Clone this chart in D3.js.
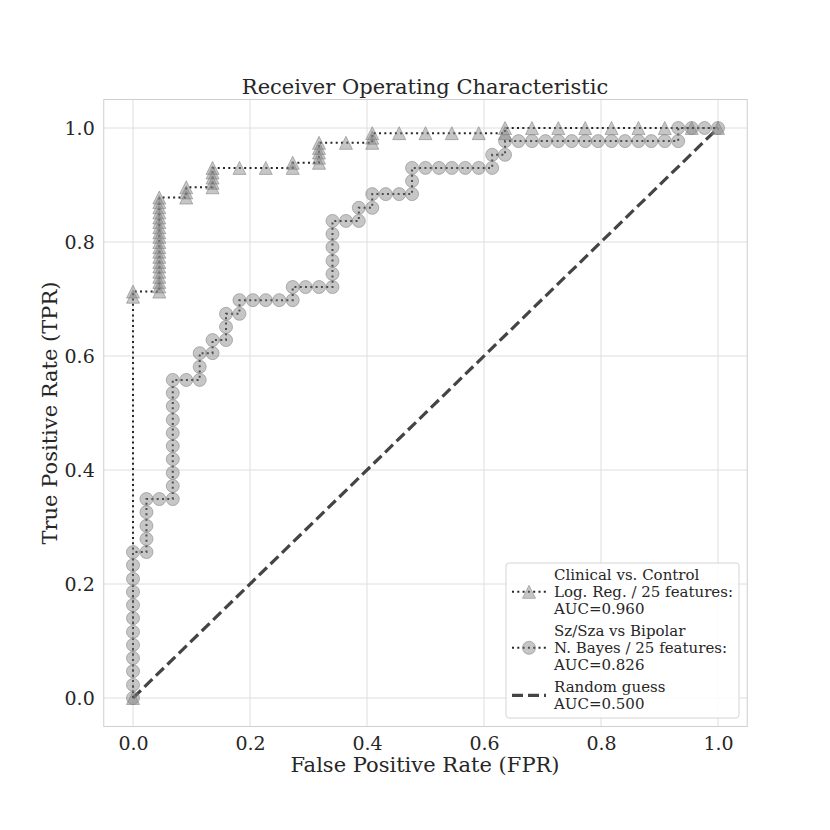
<!DOCTYPE html>
<html>
<head>
<meta charset="utf-8">
<script src="https://cdn.jsdelivr.net/npm/d3@7"></script>
<style>
  body { margin: 0; background: #fff; }
  svg { font-family: "DejaVu Serif", serif; }
</style>
</head>
<body>
<svg id="chart"></svg>
<script>
// ROC points

// Clinical vs. Control, logistic regression
var triFpr = [0, 0, 0,
  0.045, 0.045, 0.045, 0.045, 0.045, 0.045, 0.045, 0.045, 0.045, 0.045,
  0.045, 0.045, 0.045, 0.045, 0.045, 0.045, 0.045, 0.045, 0.045, 0.045,
  0.091, 0.091, 0.091,
  0.136, 0.136, 0.136, 0.136, 0.136,
  0.182, 0.227, 0.273, 0.273,
  0.318, 0.318, 0.318, 0.318, 0.318,
  0.364, 0.409, 0.409, 0.409,
  0.455, 0.500, 0.545, 0.591, 0.636, 0.636,
  0.682, 0.727, 0.773, 0.818, 0.864, 0.909, 0.955, 1.0];
var triTpr = [0, 0.704, 0.713,
  0.713, 0.722, 0.730, 0.739, 0.748, 0.757, 0.765, 0.774, 0.783, 0.791,
  0.800, 0.809, 0.817, 0.826, 0.835, 0.843, 0.852, 0.861, 0.870, 0.878,
  0.878, 0.887, 0.896,
  0.896, 0.904, 0.913, 0.922, 0.930,
  0.930, 0.930, 0.930, 0.939,
  0.939, 0.948, 0.957, 0.965, 0.974,
  0.974, 0.974, 0.983, 0.991,
  0.991, 0.991, 0.991, 0.991, 0.991, 1.0,
  1.0, 1.0, 1.0, 1.0, 1.0, 1.0, 1.0, 1.0];

// Sz/Sza vs Bipolar, naive Bayes
var circFpr = [0, 0, 0, 0, 0, 0, 0, 0, 0, 0, 0, 0,
  0.023, 0.023, 0.023, 0.023, 0.023,
  0.045,
  0.068, 0.068, 0.068, 0.068, 0.068, 0.068, 0.068, 0.068, 0.068, 0.068,
  0.091,
  0.114, 0.114, 0.114,
  0.136, 0.136,
  0.159, 0.159, 0.159,
  0.182, 0.182,
  0.205, 0.227, 0.250,
  0.273, 0.273,
  0.295, 0.318,
  0.341, 0.341, 0.341, 0.341, 0.341, 0.341,
  0.364,
  0.386, 0.386,
  0.409, 0.409,
  0.432, 0.455,
  0.477, 0.477, 0.477,
  0.500, 0.523, 0.545, 0.568, 0.591,
  0.614, 0.614,
  0.636, 0.636,
  0.659, 0.682, 0.705, 0.727, 0.750, 0.773, 0.795, 0.818, 0.841, 0.864, 0.886, 0.909,
  0.932, 0.932,
  0.955, 0.977, 1.0];
var circTpr = [0, 0.023, 0.047, 0.070, 0.093, 0.116, 0.140, 0.163, 0.186, 0.209, 0.233, 0.256,
  0.256, 0.279, 0.302, 0.326, 0.349,
  0.349,
  0.349, 0.372, 0.395, 0.419, 0.442, 0.465, 0.488, 0.512, 0.535, 0.558,
  0.558,
  0.558, 0.581, 0.605,
  0.605, 0.628,
  0.628, 0.651, 0.674,
  0.674, 0.698,
  0.698, 0.698, 0.698,
  0.698, 0.721,
  0.721, 0.721,
  0.721, 0.744, 0.767, 0.791, 0.814, 0.837,
  0.837,
  0.837, 0.860,
  0.860, 0.884,
  0.884, 0.884,
  0.884, 0.907, 0.930,
  0.930, 0.930, 0.930, 0.930, 0.930,
  0.930, 0.953,
  0.953, 0.977,
  0.977, 0.977, 0.977, 0.977, 0.977, 0.977, 0.977, 0.977, 0.977, 0.977, 0.977, 0.977,
  0.977, 1.0,
  1.0, 1.0, 1.0];

var guessFpr = [0, 1];
var guessTpr = [0, 1];

var tickValues = [0, 0.2, 0.4, 0.6, 0.8, 1.0];

var legendLabels = [
  ["Clinical vs. Control", "Log. Reg. / 25 features:", "AUC=0.960"],
  ["Sz/Sza vs Bipolar", "N. Bayes / 25 features:", "AUC=0.826"],
  ["Random guess", "AUC=0.500"]
];

var width = 830, height = 830;
var svg = d3.select("#chart").attr("width", width).attr("height", height);

var x = d3.scaleLinear().domain([-0.05, 1.05]).range([103.75, 747.25]);
var y = d3.scaleLinear().domain([-0.05, 1.05]).range([726.5, 99.5]);

// grid
svg.append("g").selectAll("line").data(tickValues).enter().append("line")
  .attr("x1", d => x(d)).attr("x2", d => x(d))
  .attr("y1", y.range()[0]).attr("y2", y.range()[1])
  .attr("stroke", "#dedede").attr("stroke-width", 1);
svg.append("g").selectAll("line").data(tickValues).enter().append("line")
  .attr("y1", d => y(d)).attr("y2", d => y(d))
  .attr("x1", x.range()[0]).attr("x2", x.range()[1])
  .attr("stroke", "#dedede").attr("stroke-width", 1);

// frame
svg.append("rect")
  .attr("x", x.range()[0]).attr("y", y.range()[1])
  .attr("width", x.range()[1] - x.range()[0]).attr("height", y.range()[0] - y.range()[1])
  .attr("fill", "none").attr("stroke", "#cfcfcf").attr("stroke-width", 1);

// axes (tick labels only, seaborn whitegrid style)
var xAxis = svg.append("g").attr("transform", "translate(0," + y.range()[0] + ")")
  .call(d3.axisBottom(x).tickValues(tickValues).tickFormat(d3.format(".1f")).tickSize(0).tickPadding(10));
var yAxis = svg.append("g").attr("transform", "translate(" + x.range()[0] + ",0)")
  .call(d3.axisLeft(y).tickValues(tickValues).tickFormat(d3.format(".1f")).tickSize(0).tickPadding(9));
[xAxis, yAxis].forEach(function (a) {
  a.select(".domain").remove();
  a.selectAll("text").attr("font-family", "DejaVu Serif").attr("font-size", 19).attr("fill", "#262626");
});

// title and axis labels
svg.append("text").attr("x", 425).attr("y", 94).attr("text-anchor", "middle")
  .attr("font-size", 21).attr("fill", "#262626").text("Receiver Operating Characteristic");
svg.append("text").attr("x", 425).attr("y", 772).attr("text-anchor", "middle")
  .attr("font-size", 21).attr("fill", "#262626").text("False Positive Rate (FPR)");
svg.append("text").attr("transform", "translate(57,413) rotate(-90)").attr("text-anchor", "middle")
  .attr("font-size", 21).attr("fill", "#262626").text("True Positive Rate (TPR)");

var line = d3.line().x(d => x(d[0])).y(d => y(d[1]));

var triPts = triFpr.map((f, i) => [f, triTpr[i]]);
var circPts = circFpr.map((f, i) => [f, circTpr[i]]);
var guessPts = guessFpr.map((f, i) => [f, guessTpr[i]]);

function triPath(s) { // matplotlib '^' marker
  return "M0," + (-s) + "L" + (-s) + "," + s + "L" + s + "," + s + "Z";
}

// random guess
svg.append("path").datum(guessPts).attr("d", line)
  .attr("fill", "none").attr("stroke", "#444").attr("stroke-width", 3.2)
  .attr("stroke-dasharray", "11,5");

function drawSeries(pts, marker) {
  svg.append("path").datum(pts).attr("d", line)
    .attr("fill", "none").attr("stroke", "#262626").attr("stroke-width", 2)
    .attr("stroke-dasharray", "2,3.3");
  var g = svg.append("g");
  if (marker === "tri") {
    g.selectAll("path").data(pts).enter().append("path")
      .attr("transform", d => "translate(" + x(d[0]) + "," + y(d[1]) + ")")
      .attr("d", triPath(6.5))
      .attr("fill", "#808080").attr("fill-opacity", 0.45)
      .attr("stroke", "#808080").attr("stroke-opacity", 0.55).attr("stroke-width", 1);
  } else {
    g.selectAll("circle").data(pts).enter().append("circle")
      .attr("cx", d => x(d[0])).attr("cy", d => y(d[1])).attr("r", 6.5)
      .attr("fill", "#808080").attr("fill-opacity", 0.45)
      .attr("stroke", "#808080").attr("stroke-opacity", 0.55).attr("stroke-width", 1);
  }
}
drawSeries(triPts, "tri");
drawSeries(circPts, "circ");

// legend
var lg = svg.append("g").attr("transform", "translate(506,563)");
lg.append("rect").attr("width", 233).attr("height", 155).attr("rx", 3)
  .attr("fill", "#fff").attr("fill-opacity", 0.85).attr("stroke", "#d5d5d5");

var lineH = 16.8;
var firstBaseline = [17, 73, 129];
legendLabels.forEach(function (lines, i) {
  var b0 = firstBaseline[i];
  var mid = b0 + (lines.length - 1) * lineH / 2 - 5;
  lines.forEach(function (t, j) {
    lg.append("text").attr("x", 48).attr("y", b0 + j * lineH)
      .attr("font-size", 15).attr("fill", "#262626").text(t);
  });
  if (i < 2) {
    lg.append("line").attr("x1", 6).attr("x2", 40).attr("y1", mid).attr("y2", mid)
      .attr("stroke", "#262626").attr("stroke-width", 2).attr("stroke-dasharray", "2,3.3");
    if (i === 0) {
      lg.append("path").attr("transform", "translate(23," + mid + ")").attr("d", triPath(6.5))
        .attr("fill", "#808080").attr("fill-opacity", 0.45)
        .attr("stroke", "#808080").attr("stroke-opacity", 0.55);
    } else {
      lg.append("circle").attr("cx", 23).attr("cy", mid).attr("r", 6.5)
        .attr("fill", "#808080").attr("fill-opacity", 0.45)
        .attr("stroke", "#808080").attr("stroke-opacity", 0.55);
    }
  } else {
    lg.append("line").attr("x1", 6).attr("x2", 40).attr("y1", mid).attr("y2", mid)
      .attr("stroke", "#444").attr("stroke-width", 3.2).attr("stroke-dasharray", "11,5");
  }
});
</script>
</body>
</html>
